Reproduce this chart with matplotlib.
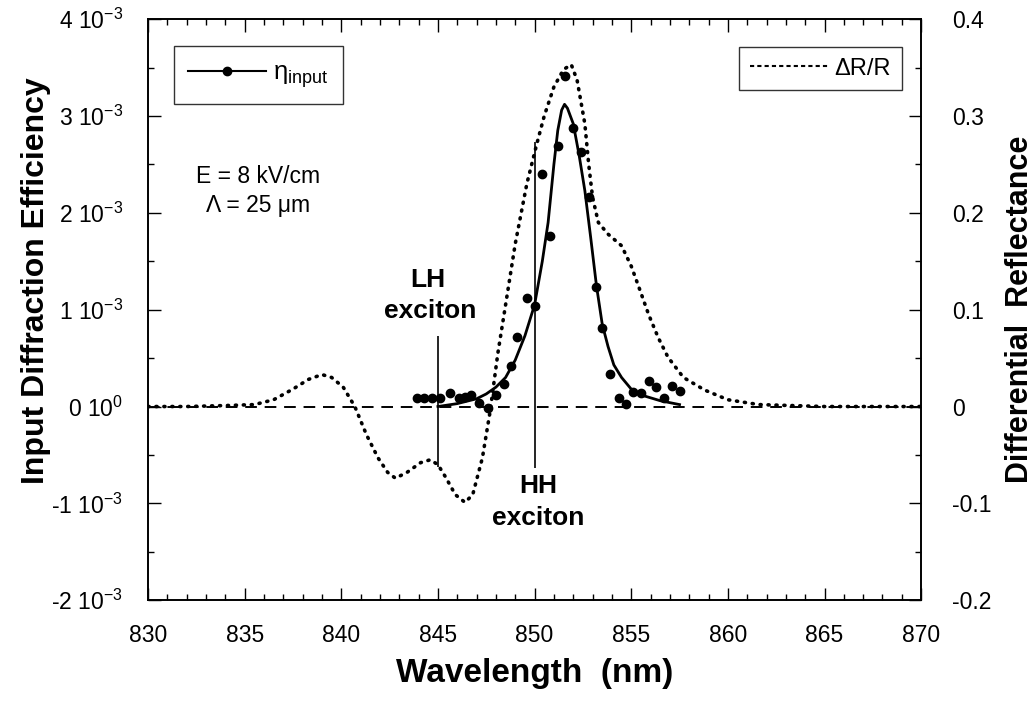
import matplotlib
matplotlib.use("Agg")
import matplotlib.pyplot as plt
from matplotlib.lines import Line2D
from matplotlib.ticker import MultipleLocator, FixedLocator

plt.rcParams['font.family'] = ['Liberation Sans', 'DejaVu Sans']
plt.rcParams['mathtext.fontset'] = 'custom'
plt.rcParams['mathtext.rm'] = 'Liberation Sans'
plt.rcParams['mathtext.it'] = 'Liberation Sans:italic'
plt.rcParams['mathtext.default'] = 'regular'

# ---- data ----
eta_wl = [843.9, 844.3, 844.7, 845.1, 845.6, 846.1, 846.4, 846.7, 847.1, 847.6,
          848.0, 848.4, 848.8, 849.1, 849.6, 850.0, 850.4, 850.8, 851.2, 851.55,
          852.0, 852.4, 852.8, 853.2, 853.5, 853.9, 854.35, 854.75, 855.1, 855.5,
          855.9, 856.3, 856.7, 857.1, 857.5]
eta_val = [0.09, 0.09, 0.09, 0.09, 0.14, 0.09, 0.10, 0.12, 0.04, -0.02,
           0.12, 0.23, 0.42, 0.72, 1.12, 1.04, 2.40, 1.76, 2.69, 3.41,
           2.88, 2.63, 2.16, 1.23, 0.81, 0.34, 0.09, 0.03, 0.15, 0.14,
           0.26, 0.20, 0.09, 0.21, 0.16]  # x 1e-3

fit_wl = [845.0, 846.0, 847.0, 847.5, 848.0, 848.5, 849.0, 849.5, 850.0, 850.4,
          850.7, 851.0, 851.2, 851.4, 851.55, 851.7, 852.0, 852.3, 852.6, 852.9,
          853.2, 853.5, 853.8, 854.1, 854.5, 855.0, 855.5, 856.0, 856.5, 857.0, 857.5]
fit_val = [0.00, 0.03, 0.08, 0.13, 0.20, 0.30, 0.48, 0.73, 1.05, 1.50,
           1.90, 2.50, 2.85, 3.06, 3.12, 3.08, 2.92, 2.60, 2.23, 1.75,
           1.25, 0.85, 0.62, 0.43, 0.30, 0.18, 0.12, 0.09, 0.06, 0.04, 0.02]  # x 1e-3

dr_wl = [830.0, 832.0, 834.0, 835.5, 836.5, 837.5, 838.3, 839.0, 839.5, 840.1,
         840.7, 841.3, 841.9, 842.4, 842.8, 843.4, 844.1, 844.6, 845.0, 845.4,
         845.9, 846.4, 846.8, 847.3, 847.7, 848.1, 848.5, 849.0, 849.6, 850.1,
         850.5, 851.0, 851.5, 851.9, 852.2, 852.6, 852.8, 853.0, 853.3, 853.8,
         854.5, 855.0, 855.4, 855.9, 856.4, 856.9, 857.7, 858.8, 860.0, 861.6,
         865.0, 870.0]
dr_val = [0.0, 0.0, 0.001, 0.002, 0.007, 0.018, 0.028, 0.033, 0.030, 0.020,
          0.0, -0.029, -0.053, -0.068, -0.074, -0.068, -0.058, -0.055, -0.060, -0.073,
          -0.091, -0.099, -0.091, -0.053, -0.005, 0.055, 0.105, 0.168, 0.230, 0.270,
          0.300, 0.330, 0.348, 0.353, 0.337, 0.292, 0.250, 0.216, 0.190, 0.178,
          0.166, 0.145, 0.123, 0.095, 0.071, 0.051, 0.030, 0.017, 0.007, 0.002,
          0.0, 0.0]

x_ticks = [830, 835, 840, 845, 850, 855, 860, 865, 870]
y_ticks = [-2e-3, -1e-3, 0, 1e-3, 2e-3, 3e-3, 4e-3]
y_tick_labels = ['-2 10$^{-3}$', '-1 10$^{-3}$', '0 10$^{0}$', '1 10$^{-3}$',
                 '2 10$^{-3}$', '3 10$^{-3}$', '4 10$^{-3}$']
y2_ticks = [-0.2, -0.1, 0.0, 0.1, 0.2, 0.3, 0.4]
y2_tick_labels = ['-0.2', '-0.1', '0', '0.1', '0.2', '0.3', '0.4']

lh_wl, lh_range = 845.0, (-0.62e-3, 0.73e-3)
hh_wl, hh_range = 850.0, (-0.63e-3, 2.73e-3)

# ---- figure ----
fig = plt.figure(figsize=(10.35, 7.07), dpi=100)
ax = fig.add_axes([0.143, 0.151, 0.747, 0.822])
ax2 = ax.twinx()

sc = 1e-3
ax.axhline(0, color='black', lw=1.4, ls=(0, (6, 4)), zorder=1)
ax.plot(fit_wl, [v * sc for v in fit_val], color='black', lw=2.0, zorder=4)
ax.plot(eta_wl, [v * sc for v in eta_val], ls='none', marker='o', ms=6,
        color='black', zorder=5)
ax.vlines([lh_wl], [lh_range[0]], [lh_range[1]], color='black', lw=1.2)
ax.vlines([hh_wl], [hh_range[0]], [hh_range[1]], color='black', lw=1.2)

ax2.plot(dr_wl, dr_val, color='black', lw=2.6, ls=(0, (0.3, 1.9)),
         dash_capstyle='round', solid_capstyle='round', zorder=3)

ax.set_xlim(830, 870)
ax.set_ylim(-2e-3, 4e-3)
ax2.set_ylim(-0.2, 0.4)

ax.xaxis.set_major_locator(FixedLocator(x_ticks))
ax.xaxis.set_minor_locator(MultipleLocator(1))
ax.set_yticks(y_ticks)
ax.set_yticklabels(y_tick_labels)
ax.yaxis.set_minor_locator(MultipleLocator(0.5e-3))
ax2.set_yticks(y2_ticks)
ax2.set_yticklabels(y2_tick_labels)
ax2.yaxis.set_minor_locator(MultipleLocator(0.05))

ax.tick_params(axis='x', which='both', direction='in', top=True, bottom=True,
               labelsize=16.5, pad=17)
ax.tick_params(axis='y', which='both', direction='in', left=True, right=False,
               labelsize=16.5, pad=18)
ax2.tick_params(axis='y', which='both', direction='in', right=True,
                labelsize=16.5, pad=22)
for a in (ax, ax2):
    a.tick_params(which='major', length=9, width=1.0)
    a.tick_params(which='minor', length=4.5, width=1.0)
    for s in a.spines.values():
        s.set_linewidth(1.2)

ax.set_xlabel('Wavelength  (nm)', fontsize=24, fontweight='bold', labelpad=8)
ax.set_ylabel('Input Diffraction Efficiency', fontsize=23, fontweight='bold')
ax.yaxis.set_label_coords(-0.125, 0.55)
ax2.set_ylabel('Differential  Reflectance', fontsize=22, fontweight='bold', rotation=90)
ax2.yaxis.set_label_coords(1.108, 0.5)

ax.text(835.7, 2.37e-3, 'E = 8 kV/cm', fontsize=16.5, ha='center', va='center')
ax.text(835.7, 2.08e-3, 'Λ = 25 μm', fontsize=16.5, ha='center', va='center')
ax.text(844.5, 1.31e-3, 'LH', fontsize=19, fontweight='bold', ha='center', va='center')
ax.text(844.6, 0.99e-3, 'exciton', fontsize=19, fontweight='bold', ha='center', va='center')
ax.text(850.2, -0.82e-3, 'HH', fontsize=19, fontweight='bold', ha='center', va='center')
ax.text(850.2, -1.15e-3, 'exciton', fontsize=19, fontweight='bold', ha='center', va='center')

leg1 = ax.legend([Line2D([0, 1], [0, 0], color='black', lw=1.5, marker='o', ms=6)],
                 ['$\\eta_{input}$'], loc='upper left', bbox_to_anchor=(0.034, 0.953),
                 fontsize=18.5, frameon=True, fancybox=False, edgecolor='black',
                 handlelength=3.0, handletextpad=0.3, borderpad=0.55,
                 borderaxespad=0, numpoints=1)
leg1.get_frame().set_linewidth(1.0)
leg2 = ax2.legend([Line2D([0, 1], [0, 0], color='black', lw=1.5, ls=(0, (2, 1.5)))],
                  ['ΔR/R'], loc='upper right', bbox_to_anchor=(0.975, 0.952),
                  fontsize=17, frameon=True, fancybox=False, edgecolor='black',
                  handlelength=3.3, handletextpad=0.3, borderpad=0.45, borderaxespad=0)
leg2.get_frame().set_linewidth(1.0)

fig.savefig('out.png', dpi=100)
